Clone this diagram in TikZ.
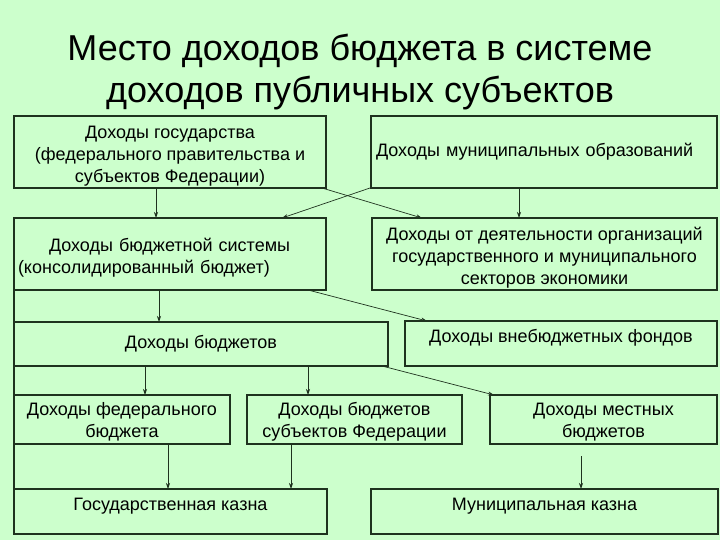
\documentclass[tikz,border=0pt]{standalone}
\usepackage{fontspec}
\setmainfont{Liberation Sans}
\usetikzlibrary{arrows.meta}
\definecolor{bgc}{HTML}{CCFFCC}
\definecolor{edgec}{RGB}{30,50,30}
% shift a block of lines down visually without changing its reported size
\newcommand{\lowerc}[2]{\raisebox{-#1}[\height][\depth]{\begin{tabular}{@{}c@{}}#2\end{tabular}}}
\newcommand{\lowerl}[2]{\raisebox{-#1}[\height][\depth]{\begin{tabular}{@{}l@{}}#2\end{tabular}}}
\tikzset{
  box/.style={draw=edgec, line width=1.2pt, fill=bgc, inner sep=0pt, outer sep=0pt,
    font=\fontsize{18}{22}\selectfont, align=center,
    execute at begin node=\strut, execute at end node=\strut},
  upper/.style={text height=13pt, text depth=15pt},
  arr/.style={draw=edgec, line width=0.7pt, -{Stealth[length=6pt,width=4pt]}},
}
\begin{document}
\begin{tikzpicture}[x=1pt,y=-1pt]
\fill[bgc] (0,0) rectangle (720,540);
\useasboundingbox (0,0) rectangle (720,540);
\node[font=\fontsize{36}{41.5}\selectfont, align=center] (title) at (360,72)
  {Место доходов бюджета в системе\\доходов публичных субъектов};
% row 1
\node[box, minimum width=312pt, minimum height=72pt] (A) at (170,152)
  {\lowerc{4pt}{Доходы государства\\(федерального правительства и\\субъектов Федерации)}};
\node[box, minimum width=346pt, minimum height=72pt, text width=336pt, align=left] (B) at (544,152)
  {Доходы муниципальных образований};
% row 2
\node[box, minimum width=312pt, minimum height=72pt, text width=304pt, align=left] (C) at (170,254)
  {\lowerl{4pt}{\hspace*{31pt}Доходы бюджетной системы\\(консолидированный бюджет)}};
\node[box, minimum width=345pt, minimum height=72pt] (D) at (544.5,254)
  {\lowerc{4.5pt}{Доходы от деятельности организаций\\государственного и муниципального\\секторов экономики}};
% row 3
\node[box, minimum width=374pt, minimum height=44pt] (E) at (201,344) {Доходы бюджетов};
\node[box, upper, minimum width=312pt, minimum height=45pt] (F) at (561,343.5) {Доходы внебюджетных фондов};
% row 4
\node[box, minimum width=216pt, minimum height=49pt] (G) at (122,419.5) {\lowerc{2.5pt}{Доходы федерального\\бюджета}};
\node[box, minimum width=215pt, minimum height=49pt] (H) at (354.5,419.5) {\lowerc{2.5pt}{Доходы бюджетов\\субъектов Федерации}};
\node[box, minimum width=227pt, minimum height=49pt] (I) at (603.5,419.5) {\lowerc{2.5pt}{Доходы местных\\бюджетов}};
% row 5
\node[box, upper, minimum width=313pt, minimum height=45pt] (J) at (170.5,511.5) {Государственная казна};
\node[box, upper, minimum width=347pt, minimum height=45pt] (K) at (544.5,511.5) {Муниципальная казна};
% left spine
\draw[draw=edgec, line width=1.2pt] (C.north west) -- (J.south west);
% connectors
\draw[arr] (A.south -| 156,0) -- (C.north -| 156,0);
\draw[arr] (B.south -| 519,0) -- (D.north -| 519,0);
\draw[arr] ([xshift=-4pt]A.south east) -- ([xshift=50pt]D.north west);
\draw[arr] ([xshift=-1pt]B.south west) -- ([xshift=-44pt]C.north east);
\draw[arr] (C.south -| 159,0) -- (E.north -| 159,0);
\draw[arr] ([xshift=-18pt]C.south east) -- ([xshift=22pt]F.north west);
\draw[arr] (E.south -| 145,0) -- (G.north -| 145,0);
\draw[arr] (E.south -| 308,0) -- (H.north -| 308,0);
\draw[arr] ([xshift=-6pt]E.south east) -- ([xshift=4pt]I.north west);
\draw[arr] (G.south -| 168,0) -- (J.north -| 168,0);
\draw[arr] (H.south -| 291,0) -- (J.north -| 291,0);
\coordinate (Istub) at (581,456);
\draw[arr] (Istub) -- (K.north -| Istub);
\end{tikzpicture}
\end{document}
